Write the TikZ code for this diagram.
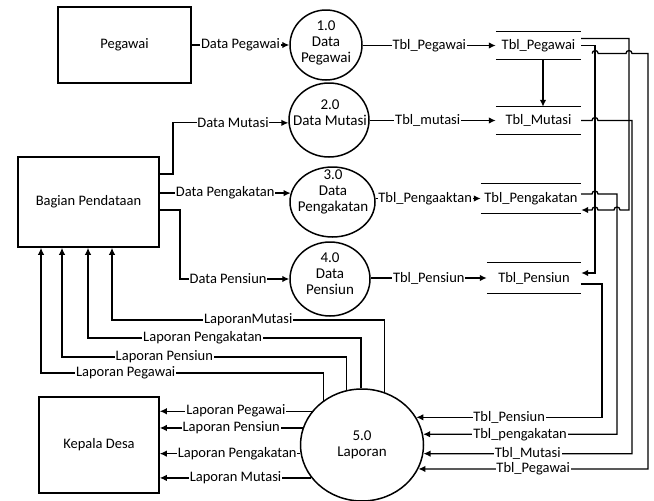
\documentclass[tikz,border=0pt]{standalone}
\usepackage{fontspec}
\setmainfont{Carlito}
\usetikzlibrary{shapes.geometric,arrows.meta}

\begin{document}
\begin{tikzpicture}[x=1pt,y=1pt,
  font=\fontsize{14.5}{16}\selectfont,
  ent/.style={draw,line width=1.6pt},
  proc/.style={draw,ellipse,line width=1.5pt,inner sep=0pt},
  ptext/.style={align=center,inner sep=0pt,font=\fontsize{15}{16}\selectfont},
  store/.style={inner sep=0pt},
  storeline/.style={line width=1.3pt},
  flow/.style={line width=1.3pt,-{Latex[length=7pt,width=6.5pt]}},
  lbl/.style={fill=white,inner sep=0.8pt}]
\useasboundingbox (0,0) rectangle (654,-501);

\node[ent,minimum width=133pt,minimum height=76pt] (peg) at (124.5,-45) {Pegawai};
\node[ent,minimum width=141pt,minimum height=90pt] (bagian) at (88.5,-202) {Bagian Pendataan};
\node[ent,minimum width=120pt,minimum height=96pt] (kepala) at (99,-445) {Kepala Desa};

\node[proc,minimum width=72pt,minimum height=70pt] (p1) at (326,-45) {};
\node[ptext] (p1t) at (326,-43) {1.0\\Data\\Pegawai};
\node[proc,minimum width=80pt,minimum height=74pt] (p2) at (329,-120) {};
\node[ptext] (p2t) at (330,-112.5) {2.0\\Data Mutasi};
\node[proc,minimum width=85pt,minimum height=70pt] (p3) at (332.5,-202) {};
\node[ptext] (p3t) at (333,-192) {3.0\\Data\\Pengakatan};
\node[proc,minimum width=80pt,minimum height=74pt] (p4) at (330,-279) {};
\node[ptext] (p4t) at (330,-274) {4.0\\Data\\Pensiun};
\node[proc,minimum width=123pt,minimum height=112pt] (p5) at (362,-445) {};
\node[ptext] (p5t) at (362,-445) {5.0\\Laporan};

\node[store,minimum width=85pt,minimum height=27pt] (tpeg) at (538.5,-45.5) {Tbl\_Pegawai};
\node[store,minimum width=85pt,minimum height=27pt] (tmut) at (538.5,-120.5) {Tbl\_Mutasi};
\node[store,minimum width=100pt,minimum height=29pt] (tpgk) at (531,-198.5) {Tbl\_Pengakatan};
\node[store,minimum width=94pt,minimum height=30pt] (tpns) at (534,-278) {Tbl\_Pensiun};
\draw[storeline] (tpeg.north west) -- (tpeg.north east) (tpeg.south west) -- (tpeg.south east);
\draw[storeline] (tmut.north west) -- (tmut.north east) (tmut.south west) -- (tmut.south east);
\draw[storeline] (tpgk.north west) -- (tpgk.north east) (tpgk.south west) -- (tpgk.south east);
\draw[storeline] (tpns.north west) -- (tpns.north east) (tpns.south west) -- (tpns.south east);

\draw[flow] (peg) -- node[lbl]{Data Pegawai} (p1);
\draw[flow] ([yshift=28pt]bagian.east) -- (173,-174) |- node[lbl,pos=0.76]{Data Mutasi} (p2.184);
\draw[flow] (bagian.east |- p3.168) -- node[lbl]{Data Pengakatan} (p3.168);
\draw[flow] ([yshift=-8pt]bagian.east) -- (180,-210) |- node[lbl,pos=0.72]{Data Pensiun} (p4.west);

\draw[flow] (p1.east |- tpeg) -- node[lbl]{Tbl\_Pegawai} (tpeg);
\draw[flow] (p2.east |- tmut) -- node[lbl,pos=0.46]{Tbl\_mutasi} (tmut);
\draw[flow] (p3.east |- tpgk) -- node[lbl,pos=0.47]{Tbl\_Pengaaktan} (tpgk);
\draw[flow] (p4.east |- tpns) -- node[lbl]{Tbl\_Pensiun} (tpns);
\draw[flow] ([xshift=4.5pt]tpeg.south) -- ([xshift=4.5pt]tmut.north);

% store to store
\draw[flow] ([yshift=7pt]tpeg.east) -| (629,-210) -- (620,-210) arc[start angle=0,end angle=180,radius=3]
  -- (598,-210) arc[start angle=0,end angle=180,radius=3] -- ([yshift=-11.5pt]tpgk.east);
\draw[flow] (tpeg.east) -| (595,-273) -- ([yshift=5pt]tpns.east);

% stores to laporan
\draw[flow] ([xshift=11pt,yshift=-8pt]tpeg.east) arc[start angle=180,end angle=0,radius=3]
  -- (626,-53.5) arc[start angle=180,end angle=0,radius=3] -- (648,-53.5) |- node[lbl,pos=0.75]{Tbl\_Pegawai} (p5.337);
\draw[flow] (tmut.east) -- (592,-120.5) arc[start angle=180,end angle=0,radius=3]
  -- (632,-120.5) |- node[lbl,pos=0.75]{Tbl\_Mutasi} (p5.352);
\draw[flow] ([yshift=4.5pt]tpgk.east) -- (592,-194) arc[start angle=180,end angle=0,radius=3]
  -- (617,-194) |- node[lbl,pos=0.75]{Tbl\_pengakatan} (p5.10);
\draw[flow] ([yshift=-6pt]tpns.east) -- (602,-284) |- node[lbl,pos=0.75]{Tbl\_Pensiun} (p5.27);

% laporan to bagian pendataan
\draw[flow] (p5.131) |- node[lbl,pos=0.85]{Laporan Pegawai} (41,-373) -- (bagian.south -| 41,0);
\draw[flow] (p5.106) |- node[lbl,pos=0.82]{Laporan Pensiun} (62,-357) -- (bagian.south -| 62,0);
\draw[flow] (p5.91) |- node[lbl,pos=0.79]{Laporan Pengakatan} (88,-338) -- (bagian.south -| 88,0);
\draw[flow] (p5.67) |- node[lbl,pos=0.75]{LaporanMutasi} (112,-320) -- (bagian.south -| 112,0);

% laporan to kepala desa
\draw[flow] (p5.146) -- node[lbl]{Laporan Pegawai} (kepala.east |- p5.146);
\draw[flow] (p5.164) -- node[lbl]{Laporan Pensiun} (kepala.east |- p5.164);
\draw[flow] (p5.188) -- node[lbl,pos=0.45]{Laporan Pengakatan} (kepala.east |- p5.188);
\draw[flow] (p5.213) -- node[lbl]{Laporan Mutasi} (kepala.east |- p5.213);
\end{tikzpicture}
\end{document}
